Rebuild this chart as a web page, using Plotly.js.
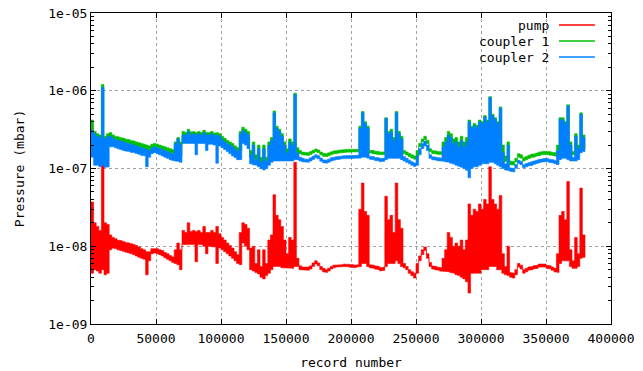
<!DOCTYPE html>
<html>
<head>
<meta charset="utf-8">
<script src="https://cdn.plot.ly/plotly-3.0.1.min.js"></script>
<style>html,body{margin:0;padding:0;background:#fff;}#chart{width:643px;height:371px;}</style>
</head>
<body>
<div id="chart"></div>
<script>
// record numbers (shared by the three series); each record bin has a low and a high reading
const records = [0,2000,4000,6000,8000,10000,12000,14000,16000,18000,
20000,22000,24000,26000,28000,30000,32000,34000,36000,38000,
40000,42000,44000,46000,48000,50000,52000,54000,56000,58000,
60000,62000,64000,66000,68000,70000,72000,74000,76000,78000,
80000,82000,84000,86000,88000,90000,92000,94000,96000,98000,
100000,102000,104000,106000,108000,110000,112000,114000,116000,118000,
120000,122000,124000,126000,128000,130000,132000,134000,136000,138000,
140000,142000,144000,146000,148000,150000,152000,154000,156000,158000,
160000,162000,164000,166000,168000,170000,172000,174000,176000,178000,
180000,182000,184000,186000,188000,190000,192000,194000,196000,198000,
200000,202000,204000,206000,208000,210000,212000,214000,216000,218000,
220000,222000,224000,226000,228000,230000,232000,234000,236000,238000,
240000,242000,244000,246000,248000,250000,252000,254000,256000,258000,
260000,262000,264000,266000,268000,270000,272000,274000,276000,278000,
280000,282000,284000,286000,288000,290000,292000,294000,296000,298000,
300000,302000,304000,306000,308000,310000,312000,314000,316000,318000,
320000,322000,324000,326000,328000,330000,332000,334000,336000,338000,
340000,342000,344000,346000,348000,350000,352000,354000,356000,358000,
360000,362000,364000,366000,368000,370000,372000,374000,376000,378000,
380000];
const lastRecord = 380000;

// pump pressure, units of 1e-9 mbar
const pumpLow = [4.5,5,4.8,4.5,5,4.3,4.5,9,9.5,9.3,
9,8.8,8.6,8.4,8.2,8,7.8,7.5,7.2,7,
6.8,4.3,6.5,8,8.2,8,7.8,7.5,7.1,6.8,
6.5,6.2,6,5.8,5,10.5,10.5,10.5,10.5,10.5,
6.3,10.5,10.5,10,8,10,10,9.8,6,9.5,
9,8.5,8,7.5,7,6.5,6,5.8,11,10,
9,5,4.8,4.6,4.4,4,3.8,4.2,4.5,5,
5.5,5.5,5.5,5.3,5.3,5.2,5.2,5.2,5.5,5.5,
5,4.9,4.9,4.9,5.1,5.5,5.9,5.6,5,4.7,
4.6,4.8,5.1,5.3,5.4,5.4,5.4,5.5,5.5,5.4,
5.4,5.3,5.4,5.5,6,6,5.5,5.3,5.2,5.1,
5,4.8,4.9,5.5,6,6,6,6.5,6,5.5,
5.3,5,4.5,4.2,3.9,4.5,6.5,7.8,8.8,7,
5.5,5.1,5,4.9,4.8,4.8,4.8,4.7,4.6,4.5,
4.3,4.2,4,3.8,3.5,2.5,4.5,4.5,4.5,4.5,
5,5,5,5.5,5.5,5.5,5,5,4.5,4.3,
4.2,4,3.9,4.3,5.4,5.1,4.5,4.7,4.9,5,
5.1,5.2,5.4,5.5,5.4,5.2,5.1,4.9,4.7,4.6,
6,6.5,6.5,6.5,5.5,5.2,5.2,5.5,7,7.2,
8];
const pumpHigh = [37,20,18,16,115,20,19,14,13,12.5,
12,11.8,11.5,11.2,11,10.8,10.5,10.2,9.8,9.3,
9,8.5,8.5,9.3,9.5,9.3,9,8.8,8.3,8,
7.6,7.3,9,11,9,16,15,20,15.5,16,
15.5,16,15,18,15,15,16,15,18,14.5,
13,12,11,10.2,9.5,8.5,7.8,15,20,19,
17,9.5,10,6,9,5.5,9,6,12,14,
46,25,22,18,12,8,13,12,120,7,
5.6,5.4,5.4,5.4,5.6,6.1,6.5,6.1,5.5,5.2,
5,5.2,5.5,5.7,5.8,5.8,5.8,5.9,5.9,5.8,
5.8,5.7,5.8,30,65,28,25,5.8,5.7,5.6,
5.5,5.3,5.4,44,22,25,15,65,22,17,
6,5.5,5,4.7,4.5,6,7.5,9,9.8,8,
6.2,5.6,5.5,5.4,5.3,7,9,15,13,10,
11,10,12,9,12,35,25,30,28,35,
30,40,35,105,40,35,30,45,8,5.5,
10,4.6,4.5,5,6,5.7,5,5.2,5.4,5.5,
5.6,5.7,5.9,6,5.9,5.7,5.6,5.4,5.2,8,
25,28,22,68,9,6.5,13,8,56,14,
12];

// coupler 1 pressure, units of 1e-8 mbar
const coupler1Low = [25,22,20,18,20,18,20,25,24.5,23.5,
23,22.5,22,21.5,21,20.5,20,19.5,19,18.5,
18,16,17,18.5,19,18.5,18,17.5,17,16.5,
16,15.5,15,15,14.5,26,26,26,26,26,
24,26,25.5,25.5,25,25,25,24.5,24,24,
23,22,21,20,19,17.8,16.8,17,27,26,
24,14,13.5,13,12.5,12,11.5,12,13,14,
14,14,14,14,14,14,14,14,15,16,
15.5,15,14.7,14.7,15.2,15.8,16.4,16,15,14.4,
14.2,14.6,15.1,15.4,15.6,15.8,16,16.1,16.2,16.3,
16.3,16.3,16.3,16.3,16.5,16.5,16,15.8,15.6,15.3,
15.1,14.8,15,15.5,16,16,16,16,16,15.5,
15.5,14.9,14.2,13.6,13.2,14,19,22,23.5,21,
16.5,15.6,15.4,15.2,15,15,15,15,14.5,14,
14,13.5,13,12.5,12,11,12.5,13,13,13.5,
14,14,14,14.5,14.5,14,13.5,13,12,12.3,
11.5,11.2,11,12.2,14,13.6,12.5,13,13.4,13.8,
14.1,14.4,14.7,15,15.2,15.1,14.9,14.7,14.5,14.3,
15,15.5,15.5,15,14.5,15,15,15.5,18,18,
19];
const coupler1High = [42,30,28,27,120,26,28,29,27,26,
25.5,25,24.5,24,23.5,23,22.5,22,21.5,21,
20.5,20,19.5,20.5,21,20.5,20,19.5,19,18.5,
18,17.5,22,25,22,30,29,32,29.5,30,
29,30,29,31,29,29,30,28.5,29,28,
26,24.5,23,22,21,19.5,18.5,30,34,32,
30,17,22,15,20,14,20,14,22,25,
55,35,32,28,22,18,24,22,93,18.5,
17,16.3,16,16,16.5,17.2,17.8,17.3,16.3,15.7,
15.5,15.9,16.4,16.8,17,17.2,17.4,17.5,17.6,17.7,
17.7,17.7,17.7,35,54,40,35,17.2,17,16.7,
16.5,16.2,16.4,45,30,32,25,54,30,26,
17,16.3,15.6,15,14.5,17,21,24,26,23,
18,17,16.8,16.6,16.4,22,25,30,28,24,
25,22,26,22,25,42,35,38,36,42,
40,48,42,84,50,45,40,62,20,14.5,
22,12.5,12.3,13.5,15.5,15,13.8,14.3,14.8,15.2,
15.5,15.8,16.2,16.5,16.7,16.6,16.4,16.2,16,20,
45,45,40,66,22,16.5,28,20,52,27,
26];

// coupler 2 pressure, units of 1e-8 mbar
const coupler2Low = [14,11,11,10.5,11,10.3,10.5,19,19,18.5,
18,17.5,17,16.8,16.5,16.2,16,15.6,15.2,14.8,
14.5,10.5,14,15.5,16,15.5,15,14.5,14,13.5,
13,12.7,12.5,12.3,12,21,21,21,21,21,
15,21,21,21,17,20.5,20.5,20,11.7,19.5,
18.5,17.5,16.5,15.5,14.5,13.8,13,13,21,20,
18,11.5,11.2,11,10.5,10,9.6,10,11,12,
12.5,12.5,12.5,12.5,12.5,12.5,12.5,12.5,13,13,
12.5,12.2,12,12,12.5,13.1,13.7,13.3,12.4,11.9,
11.7,12,12.5,12.8,13,13.2,13.3,13.4,13.5,13.6,
13.6,13.6,13.6,13.6,14,14,13.6,13.2,13,12.7,
12.5,12.2,12.4,13,13.5,13.5,13.5,13.5,13.5,13,
12.5,12,11.5,11,10.6,11,15,18,19.5,17,
13.5,13,12.8,12.6,12.4,12.4,12.2,12,11.7,11.4,
11,10.7,10.4,10,9.5,7.6,10,10.5,10.5,11,
11.5,11.5,11.5,12,12,11.5,11,10.5,10,9.6,
9.4,9.2,9,10.1,11.6,11.2,10.2,10.5,10.8,11,
11.3,11.6,11.9,12.1,12.3,12.2,12,11.8,11.5,11.2,
13,13.5,13.5,13,12.5,12.5,12.5,13,16,16.5,
17.5];
const coupler2High = [31,28,26,25,110,24,26,26,24.5,23.5,
23,22.5,22,21.5,21,20.5,20,19.5,19,18.5,
18,17.5,17,18.5,19,18.5,18,17.5,17,16.5,
16,15.5,21,24,20,27,27,30,27,28,
27,28,27,29,27,27,28,26.5,27,26,
23.5,22,21,20,19,17.8,16.8,28,31,29,
27,15,20,13,18,12,18,12.5,20,23,
52,33,30,26,20,16,22,20,90,16,
14,13.5,13.2,13.2,13.7,14.4,15,14.6,13.6,13,
12.8,13.2,13.7,14,14.2,14.4,14.5,14.6,14.7,14.8,
14.8,14.8,14.8,33,52,38,33,14.4,14.2,13.9,
13.7,13.4,13.6,44,28,30,23,52,28,24,
14.2,13.5,12.8,12.2,11.8,14.5,18,21,22.5,20,
15,14.2,14,13.8,13.6,19,22,27,25,21,
22,19,23,19,22,40,33,36,34,40,
38,46,40,82,48,43,38,60,16,11.5,
20,10.2,10,11.2,12.8,12.4,11.2,11.6,11.9,12.2,
12.5,12.8,13.1,13.3,13.5,13.4,13.2,13,12.7,17,
43,42,38,64,20,14,26,18,50,25,
24];

const seriesNames = ['pump', 'coupler 1', 'coupler 2'];
const seriesColors = ['#ff0000', '#00c000', '#0080ff'];
const seriesUnits = [1e-9, 1e-8, 1e-8];
const seriesLow = [pumpLow, coupler1Low, coupler2Low];
const seriesHigh = [pumpHigh, coupler1High, coupler2High];

const xTickVals = [0,50000,100000,150000,200000,250000,300000,350000,400000];
const xTickText = ['0','50000','100000','150000','200000','250000','300000','350000','400000'];
const yTickVals = [1e-9,1e-8,1e-7,1e-6,1e-5];
const yTickText = ['1e-09','1e-08','1e-07','1e-06','1e-05'];

const yMinor = [];
for (let d = -9; d < -5; d++) {
  for (let m = 2; m <= 9; m++) yMinor.push(m * Math.pow(10, d));
}

// each series is drawn as its min/max envelope, one flat step per record bin
const traces = seriesNames.map((name, k) => {
  const u = seriesUnits[k];
  const n = records.length;
  const binEnd = i => (i + 1 < n ? records[i + 1] : lastRecord);
  const xs = [], ys = [];
  for (let i = 0; i < n; i++) {
    xs.push(records[i], binEnd(i));
    ys.push(seriesHigh[k][i] * u, seriesHigh[k][i] * u);
  }
  for (let i = n - 1; i >= 0; i--) {
    xs.push(binEnd(i), records[i]);
    ys.push(seriesLow[k][i] * u, seriesLow[k][i] * u);
  }
  return {
    type: 'scatter', mode: 'lines',
    x: xs, y: ys, name: name,
    fill: 'toself', fillcolor: seriesColors[k],
    line: {color: seriesColors[k], width: 0.6},
    showlegend: false, hoverinfo: 'skip'
  };
});

const font = {family: 'DejaVu Sans Mono, Liberation Mono, monospace', size: 13, color: '#000'};

// gnuplot-style key: right-aligned label, line sample to the right
const legendTop = 0.9614, legendStep = 0.0515;
const annotations = seriesNames.map((nm, k) => ({
  xref: 'paper', yref: 'paper',
  x: 0.8846, y: legendTop - k * legendStep,
  xanchor: 'right', yanchor: 'middle',
  text: nm, showarrow: false, font: font
}));
const shapes = seriesColors.map((c, k) => ({
  type: 'line', xref: 'paper', yref: 'paper',
  x0: 0.9, x1: 0.969,
  y0: legendTop - k * legendStep, y1: legendTop - k * legendStep,
  line: {color: c, width: 1.5}
}));

const layout = {
  width: 643, height: 371,
  margin: {l: 91, r: 32, t: 13, b: 47, pad: 0},
  paper_bgcolor: '#fff', plot_bgcolor: '#fff',
  font: font,
  showlegend: false,
  xaxis: {
    range: [0, 400000],
    tickmode: 'array', tickvals: xTickVals, ticktext: xTickText,
    ticks: 'inside', ticklen: 5, tickcolor: '#000',
    ticklabelstandoff: 2,
    showline: true, linecolor: '#000', linewidth: 1, mirror: 'ticks',
    showgrid: true, gridcolor: '#a0a0a0', griddash: 'dot', gridwidth: 1,
    zeroline: false,
    title: {text: 'record number', font: font, standoff: 13}
  },
  yaxis: {
    type: 'log',
    range: [-9, -5],
    tickmode: 'array', tickvals: yTickVals, ticktext: yTickText,
    ticks: 'inside', ticklen: 5, tickcolor: '#000',
    minor: {tickmode: 'array', tickvals: yMinor, ticks: 'inside', ticklen: 3, tickcolor: '#000', showgrid: false},
    showline: true, linecolor: '#000', linewidth: 1, mirror: 'ticks',
    showgrid: true, gridcolor: '#a0a0a0', griddash: 'dot', gridwidth: 1,
    zeroline: false,
    title: {text: 'Pressure (mbar)', font: font, standoff: 20}
  },
  annotations: annotations,
  shapes: shapes
};

Plotly.newPlot('chart', traces, layout, {staticPlot: true, displayModeBar: false});
</script>
</body>
</html>
